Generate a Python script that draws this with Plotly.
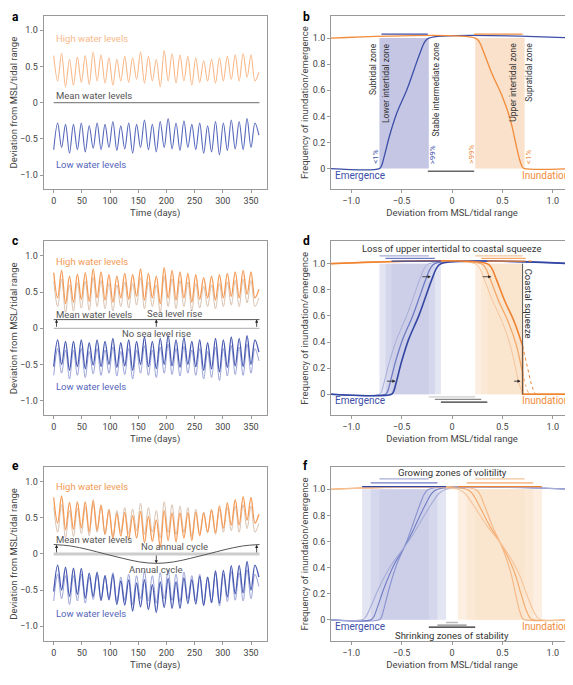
import plotly.graph_objects as go
import numpy as np

W, H = 573, 685
FW, FH = 566, 672
# ---------------- data ----------------
tide_days = list(range(0, 365, 7))
high_peaks = [0.65,0.68,0.60,0.63,0.65,0.70,0.66,0.62,0.60,0.64,0.62,0.70,0.64,0.60,0.72,0.68,0.66,0.64,0.62,0.58,0.60,0.62,0.64,0.66,0.68,0.66,0.42]
high_troughs = [0.30,0.22,0.24,0.28,0.25,0.30,0.27,0.24,0.30,0.28,0.32,0.27,0.30,0.22,0.30,0.27,0.30,0.24,0.28,0.30,0.27,0.30,0.32,0.30,0.35,0.30]
low_troughs = [-0.65,-0.62,-0.70,-0.65,-0.68,-0.63,-0.65,-0.62,-0.66,-0.64,-0.70,-0.62,-0.65,-0.68,-0.62,-0.64,-0.66,-0.62,-0.65,-0.70,-0.68,-0.72,-0.66,-0.64,-0.65,-0.62,-0.45]
low_peaks = [-0.28,-0.30,-0.30,-0.28,-0.32,-0.28,-0.30,-0.26,-0.32,-0.28,-0.30,-0.24,-0.30,-0.26,-0.22,-0.28,-0.25,-0.30,-0.28,-0.32,-0.26,-0.28,-0.24,-0.26,-0.22,-0.28]
sea_level_rise = 0.12
annual_days = [0, 30, 61, 91, 122, 152, 182, 213, 243, 274, 304, 335, 365]
annual_cycle = [0.13, 0.11, 0.06, 0.0, -0.06, -0.11, -0.13, -0.11, -0.06, 0.0, 0.06, 0.11, 0.13]
arrow_days = [5, 182, 360]

emerg_x = [-0.72,-0.70,-0.67,-0.62,-0.55,-0.45,-0.38,-0.32,-0.27,-0.23]
emerg_y = [0.0, 0.02, 0.10, 0.25, 0.42, 0.60, 0.75, 0.88, 0.97, 1.0]
inund_x = [0.23, 0.27, 0.32, 0.40, 0.50, 0.58, 0.63, 0.67, 0.70, 0.72]
inund_y = [1.0, 0.97, 0.88, 0.72, 0.55, 0.37, 0.20, 0.07, 0.01, 0.0]
d_shifts = [0.0, 0.06, 0.12]
f_stretch = [1.0, 1.35, 1.7]
squeeze_x = 0.70

def interleave(a, b):
    out = []
    for i in range(len(a)):
        out.append(a[i])
        if i < len(b):
            out.append(b[i])
    return out

high_a = interleave(high_peaks, high_troughs)
low_a = interleave(low_troughs, low_peaks)

OR = "#f28c3b"; ORL = "#f8b98a"; ORG = "#d9c2b0"
BL = "#3d4fa8"; BLL = "#9aa3d6"
GR = "#555555"; AX = "#999999"; TX = "#444444"

fig = go.Figure()

cols = [(36, 262), (327, 572)]
rows = [(8, 185), (238, 415), (468, 645)]
axes = {}
n = 0
for r in range(3):
    for c in range(2):
        n += 1
        x0, x1 = cols[c]; y0, y1 = rows[r]
        axes[(r, c)] = n
        sfx = "" if n == 1 else str(n)
        left = (c == 0)
        xa = dict(domain=[x0 / W, x1 / W], anchor="y" + sfx,
                  range=[-18, 378] if left else [-1.2, 1.2],
                  tickvals=[0,50,100,150,200,250,300,350] if left else [-1,-0.5,0,0.5,1],
                  ticktext=None if left else ["−1.0","−0.5","0","0.5","1.0"],
                  title=dict(text="Time (days)" if left else "Deviation from MSL/tidal range", font=dict(size=9.5, color=TX), standoff=4),
                  showline=True, mirror=True, linecolor=AX, linewidth=1, ticks="outside", ticklen=3,
                  tickcolor=AX, showgrid=False, zeroline=False, tickfont=dict(size=9, color=TX))
        ya = dict(domain=[1 - y1 / H, 1 - y0 / H], anchor="x" + sfx,
                  range=[-1.2, 1.2] if left else [-0.16, 1.17],
                  tickvals=[-1,-0.5,0,0.5,1] if left else [0,0.2,0.4,0.6,0.8,1.0],
                  ticktext=["−1.0","−0.5","0","0.5","1.0"] if left else ["0","0.2","0.4","0.6","0.8","1.0"],
                  title=dict(text="Deviation from MSL/tidal range" if left else "Frequency of inundation/emergence", font=dict(size=9.5, color=TX), standoff=2),
                  showline=True, mirror=True, linecolor=AX, linewidth=1, ticks="outside", ticklen=3,
                  tickcolor=AX, showgrid=False, zeroline=False, tickfont=dict(size=9, color=TX))
        fig.layout["xaxis" + sfx] = xa
        fig.layout["yaxis" + sfx] = ya
        fig.add_annotation(text="<b>" + "abcdef"[n - 1] + "</b>", xref="paper", yref="paper",
                           x=2 / W if left else (x0 - 30) / W, y=1 - max(y0 - 10, 0) / H,
                           showarrow=False, xanchor="left", yanchor="top", font=dict(size=12, color="black"))

def ref(r, c):
    k = axes[(r, c)]
    s = "" if k == 1 else str(k)
    return "x" + s, "y" + s

def line(r, c, x, y, color, width=1.2, dash=None, shape="linear"):
    xr, yr = ref(r, c)
    fig.add_trace(go.Scatter(x=x, y=y, mode="lines", xaxis=xr, yaxis=yr, showlegend=False, hoverinfo="skip",
                             line=dict(color=color, width=width, dash=dash, shape=shape)))

def text(r, c, x, y, s, color=TX, size=9.5, xa="left", ya="middle", angle=0):
    xr, yr = ref(r, c)
    fig.add_annotation(text=s, x=x, y=y, xref=xr, yref=yr, showarrow=False, xanchor=xa, yanchor=ya,
                       textangle=angle, font=dict(size=size, color=color))

def rect(r, c, x0, x1, color, op):
    xr, yr = ref(r, c)
    fig.add_shape(type="rect", xref=xr, yref=yr, x0=x0, x1=x1, y0=0, y1=1, fillcolor=color, opacity=op,
                  line_width=0, layer="below")

def arrow(r, c, x, y0, y1, xt=None, xh=None):
    xr, yr = ref(r, c)
    fig.add_annotation(x=x if xh is None else xh, y=y1, ax=x if xt is None else xt, ay=y0,
                       xref=xr, yref=yr, axref=xr, ayref=yr, text="",
                       showarrow=True, arrowhead=2, arrowsize=0.8, arrowwidth=0.8, arrowcolor="#222")

# ---------------- panel a ----------------
line(0, 0, tide_days, high_a, ORL, 1.1, shape="spline")
line(0, 0, tide_days, low_a, "#5566bb", 1.1, shape="spline")
line(0, 0, [0, 365], [0, 0], "#888", 1.2)
text(0, 0, 0, 0.88, "High water levels", ORL)
text(0, 0, 0, 0.1, "Mean water levels", GR)
text(0, 0, 0, -0.85, "Low water levels", "#5566bb")

# ---------------- panel c ----------------
high_c = [v + sea_level_rise for v in high_a]
low_c = [v + sea_level_rise for v in low_a]
line(1, 0, tide_days, high_a, ORG, 1.0, shape="spline")
line(1, 0, tide_days, high_c, "#f49a55", 1.3, shape="spline")
line(1, 0, tide_days, low_a, BLL, 1.0, shape="spline")
line(1, 0, tide_days, low_c, "#4658b0", 1.3, shape="spline")
line(1, 0, [0, 365], [0, 0], "#aaa", 1.0)
line(1, 0, [0, 365], [sea_level_rise, sea_level_rise], GR, 1.0)
for d in arrow_days:
    arrow(1, 0, d, 0.0, sea_level_rise)
text(1, 0, 0, 0.93, "High water levels", "#f49a55")
text(1, 0, 0, 0.19, "Mean water levels", GR)
text(1, 0, 215, 0.21, "Sea level rise", GR, xa="center")
text(1, 0, 182, -0.07, "No sea level rise", GR, xa="center")
text(1, 0, 0, -0.8, "Low water levels", "#5566bb")

# ---------------- panel e ----------------
ann = list(np.interp(tide_days, annual_days, annual_cycle))
high_e = [v + a for v, a in zip(high_a, ann)]
low_e = [v + a for v, a in zip(low_a, ann)]
line(2, 0, tide_days, high_a, ORG, 1.0, shape="spline")
line(2, 0, tide_days, high_e, "#f49a55", 1.3, shape="spline")
line(2, 0, tide_days, low_a, BLL, 1.0, shape="spline")
line(2, 0, tide_days, low_e, "#4658b0", 1.3, shape="spline")
line(2, 0, [0, 365], [0, 0], "#cccccc", 3.0)
line(2, 0, annual_days, annual_cycle, GR, 1.0, shape="spline")
for d in arrow_days:
    arrow(2, 0, d, 0.0, float(np.interp(d, annual_days, annual_cycle)))
text(2, 0, 0, 0.93, "High water levels", "#f49a55")
text(2, 0, 0, 0.2, "Mean water levels", GR)
text(2, 0, 215, 0.1, "No annual cycle", GR, xa="center")
text(2, 0, 182, -0.22, "Annual cycle", GR, xa="center")
text(2, 0, 0, -0.82, "Low water levels", "#5566bb")

def blue_curve(r, c, xs, color, width):
    line(r, c, [-1.2] + xs + [1.2], [0] + emerg_y + [1], color, width, shape="spline")

def orange_curve(r, c, xs, color, width):
    line(r, c, [-1.2] + xs + [1.2], [1] + inund_y + [0], color, width, shape="spline")

# ---------------- panel b ----------------
rect(0, 1, emerg_x[0], emerg_x[-1], "#c4c6e4", 1)
rect(0, 1, inund_x[0], inund_x[-1], "#f9e1cb", 1)
blue_curve(0, 1, emerg_x, BL, 1.3)
orange_curve(0, 1, inund_x, OR, 1.3)
line(0, 1, [-0.70, -0.24], [1.03, 1.03], BL, 1.3)
line(0, 1, [0.22, 0.70], [1.03, 1.03], OR, 1.3)
line(0, 1, [-0.24, 0.22], [-0.02, -0.02], "#666", 1.5)
for xx, s in [(-0.79, "Subtidal zone"), (-0.66, "Lower intertidal zone"), (-0.16, "Stable intermediate zone"),
              (0.61, "Upper intertidal zone"), (0.77, "Supratidal zone")]:
    text(0, 1, xx, 0.98, s, "#333", 8.5, xa="center", ya="top", angle=-90)
for xx, s, col in [(-0.76, "<1%", BL), (-0.19, ">99%", BL), (0.19, ">99%", OR), (0.76, "<1%", OR)]:
    text(0, 1, xx, 0.02, s, col, 8, xa="center", ya="bottom", angle=-90)
text(0, 1, -1.18, -0.05, "Emergence", BL, 10)
text(0, 1, 1.18, -0.05, "Inundation", OR, 10, xa="right")

# ---------------- panel d ----------------
for s in d_shifts:
    rect(1, 1, emerg_x[0] + s, emerg_x[-1] + s, "#c4c6e4", 0.45)
    rect(1, 1, inund_x[0] + s, squeeze_x, "#f9e1cb", 0.55)
bcols = ["#a6acd8", "#6f7cc4", "#3346a3"]
ocols = ["#f6c49a", "#f4a868", "#f08330"]
bar_y = [1.06, 1.04, 1.02]
gbar_y = [-0.02, -0.04, -0.06]
gcols = ["#cccccc", "#888888", "#333333"]
for i, s in enumerate(d_shifts):
    blue_curve(1, 1, [x + s for x in emerg_x], bcols[i], 1.0 + 0.3 * i)
    ox = [x + s for x in inund_x]
    oy_cut = float(np.interp(squeeze_x, ox, inund_y))
    keep_x = [x for x in ox if x < squeeze_x]
    keep_y = [y for x, y in zip(ox, inund_y) if x < squeeze_x]
    line(1, 1, [-1.2] + keep_x + [squeeze_x], [1] + keep_y + [oy_cut], ocols[i], 1.0 + 0.3 * i, shape="spline")
    line(1, 1, [squeeze_x, squeeze_x, 1.2], [oy_cut, 0, 0], ocols[i], 1.0 + 0.3 * i)
    if s > 0:
        dx = [squeeze_x] + [x for x in ox if x > squeeze_x]
        dy = [oy_cut] + [y for x, y in zip(ox, inund_y) if x > squeeze_x]
        line(1, 1, dx, dy, ocols[i], 1.0, dash="dot", shape="spline")
        line(1, 1, [squeeze_x, inund_x[-2] + s], [bar_y[i], bar_y[i]], ocols[i], 1.2, dash="dot")
    line(1, 1, [emerg_x[0] + s, emerg_x[-1] + s], [bar_y[i], bar_y[i]], bcols[i], 1.3)
    line(1, 1, [inund_x[0] + s, squeeze_x], [bar_y[i], bar_y[i]], ocols[i], 1.3)
    line(1, 1, [emerg_x[-1] + s, inund_x[0] + s], [gbar_y[i], gbar_y[i]], gcols[i], 1.3)
line(1, 1, [squeeze_x, squeeze_x], [0, 1], "#555", 1.0)
arrow(1, 1, 0, 0.1, 0.1, xt=-0.66, xh=-0.56)
arrow(1, 1, 0, 0.9, 0.9, xt=-0.31, xh=-0.21)
arrow(1, 1, 0, 0.9, 0.9, xt=0.29, xh=0.39)
arrow(1, 1, 0, 0.1, 0.1, xt=0.6, xh=0.68)
text(1, 1, 0.0, 1.12, "Loss of upper intertidal to coastal squeeze", "#333", 9.5, xa="center")
text(1, 1, 0.76, 0.98, "Coastal squeeze", "#333", 9.5, xa="center", ya="top", angle=90)
text(1, 1, -1.18, -0.05, "Emergence", BL, 10)
text(1, 1, 1.18, -0.05, "Inundation", OR, 10, xa="right")

# ---------------- panel f ----------------
bc = 0.5 * (emerg_x[0] + emerg_x[-1]); oc = 0.5 * (inund_x[0] + inund_x[-1])
fbar_y = [1.02, 1.05, 1.08]
fg_y = [-0.055, -0.04, -0.02]
fgcols = ["#222222", "#888888", "#bbbbbb"]
for i, k in enumerate(f_stretch):
    bx = [bc + (x - bc) * k for x in emerg_x]
    ox = [oc + (x - oc) * k for x in inund_x]
    rect(2, 1, bx[0], bx[-1], "#c4c6e4", 0.45)
    rect(2, 1, ox[0], ox[-1], "#f9e1cb", 0.55)
for i, k in enumerate(f_stretch):
    bx = [bc + (x - bc) * k for x in emerg_x]
    ox = [oc + (x - oc) * k for x in inund_x]
    blue_curve(2, 1, bx, bcols[2 - i] if i else "#8891cf", 1.1)
    orange_curve(2, 1, ox, ocols[2 - i] if i else "#f6b684", 1.1)
    line(2, 1, [bx[0], bx[-1]], [fbar_y[2 - i]] * 2, bcols[i], 1.3)
    line(2, 1, [ox[0], ox[-1]], [fbar_y[2 - i]] * 2, ocols[i], 1.3)
    line(2, 1, [bx[-1], ox[0]], [fg_y[i]] * 2, fgcols[i], 1.3)
text(2, 1, 0.0, 1.13, "Growing zones of volitility", "#333", 9.5, xa="center")
text(2, 1, 0.0, -0.12, "Shrinking zones of stability", "#333", 9.5, xa="center")
text(2, 1, -1.18, -0.05, "Emergence", BL, 10)
text(2, 1, 1.18, -0.05, "Inundation", OR, 10, xa="right")

fig.update_layout(width=FW, height=FH, margin=dict(l=0, r=0, t=0, b=0), plot_bgcolor="white",
                  paper_bgcolor="white", font=dict(family="Roboto, Noto Sans, sans-serif", color=TX))
fig.write_html("out.html")
